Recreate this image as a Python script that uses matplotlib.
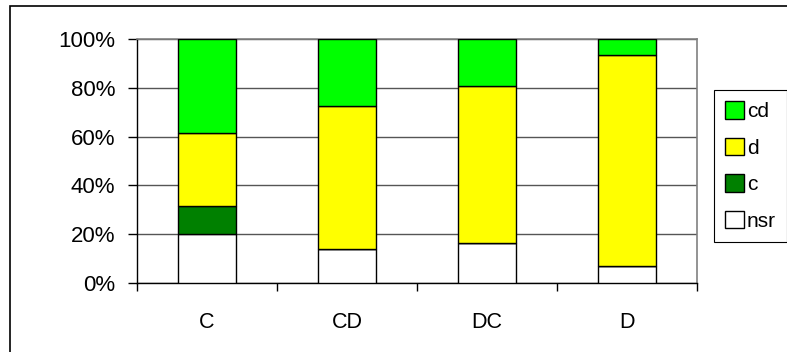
import numpy as np
import matplotlib
matplotlib.use("Agg")
import matplotlib.pyplot as plt
from matplotlib.patches import Rectangle

plt.rcParams['font.family'] = ['Liberation Sans', 'DejaVu Sans']

# Shares per group, in percent (stacked bottom to top)
groups = ["C", "CD", "DC", "D"]
nsr = [20.0, 14.0, 16.3, 7.0]
c = [11.7, 0.0, 0.0, 0.0]
d = [29.9, 58.5, 64.4, 86.4]
cd = [38.4, 27.5, 19.3, 6.6]

series = [("nsr", nsr, "#FFFFFF"),
          ("c", c, "#008000"),
          ("d", d, "#FFFF00"),
          ("cd", cd, "#00FF00")]

W, H = 787, 352
fig = plt.figure(figsize=(W / 100, H / 100), dpi=100)

# outer frame of the chart
fig.patches.append(Rectangle((10 / W, -0.05), 1.2, 1 - 6 / H + 0.05,
                             transform=fig.transFigure, fill=False,
                             edgecolor="black", linewidth=1.2, clip_on=False))

ax = fig.add_axes([137 / W, (H - 283) / H, 560 / W, 244 / H])

x = np.arange(len(groups))
bottom = np.zeros(len(groups))
handles = []
for name, vals, col in series:
    vals = np.array(vals)
    b = ax.bar(x, vals, width=0.41, bottom=bottom, color=col,
               edgecolor="black", linewidth=1.0, label=name, zorder=3)
    handles.append(b)
    bottom += vals

ax.set_xlim(-0.5, len(groups) - 0.5)
ax.set_ylim(0, 100)
ax.set_yticks(np.arange(0, 101, 20))
ax.set_yticklabels([f"{v}%" for v in range(0, 101, 20)])
ax.yaxis.grid(True, color="#555555", linewidth=1.0, zorder=0)

ax.set_xticks(x)
ax.set_xticklabels(groups)
ax.set_xticks(np.arange(-0.5, len(groups)), minor=True)
ax.tick_params(axis="x", which="major", length=0, pad=21, labelsize=15.5)
ax.tick_params(axis="x", which="minor", length=6, width=1, direction="out")
ax.tick_params(axis="y", length=6.5, width=1, pad=9, labelsize=16)

for s in ["left", "bottom"]:
    ax.spines[s].set_color("black")
    ax.spines[s].set_linewidth(1.0)
for s in ["top", "right"]:
    ax.spines[s].set_color("#808080")
    ax.spines[s].set_linewidth(1.2)

leg = fig.legend(handles[::-1], [h.get_label() for h in handles[::-1]],
                 loc="upper left", bbox_to_anchor=(714 / W, 1 - 90 / H),
                 bbox_transform=fig.transFigure, frameon=True, fancybox=False,
                 edgecolor="black", framealpha=1, fontsize=15,
                 handlelength=0.9, handleheight=0.9, handletextpad=0.12,
                 labelspacing=0.8, borderpad=0.55, borderaxespad=0)
leg.get_frame().set_linewidth(0.8)

fig.savefig("out.png", dpi=100)
